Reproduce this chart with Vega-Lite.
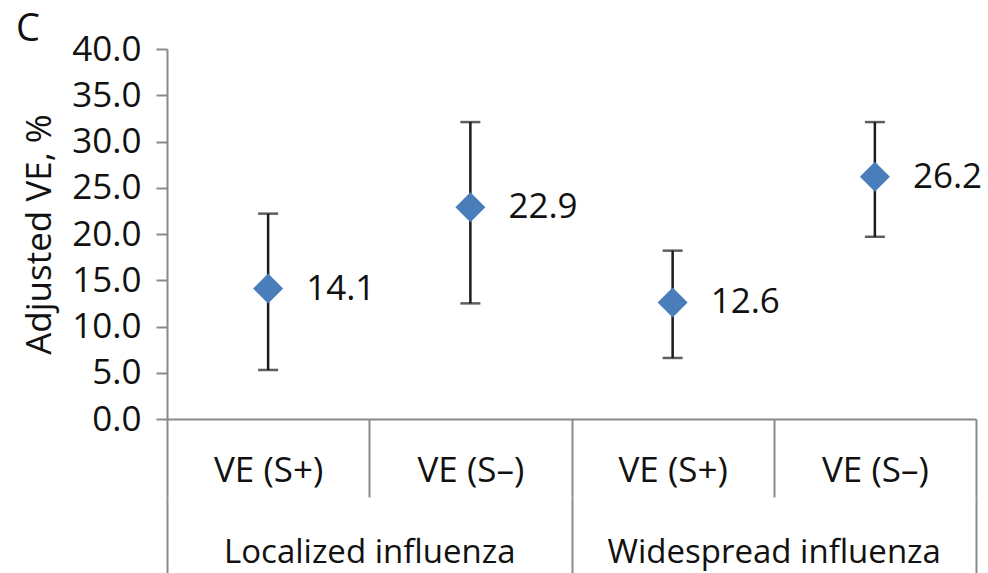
{
  "$schema": "https://vega.github.io/schema/vega-lite/v6.json",
  "autosize": {"type": "none"},
  "padding": {"left": 167, "top": 49, "right": 12, "bottom": 154},
  "width": 809,
  "height": 370,
  "background": "white",
  "title": {"text": "C", "anchor": "start", "frame": "group", "font": "Open Sans", "fontSize": 38, "fontWeight": "normal", "color": "#111", "dx": -151, "dy": 47, "offset": 0, "baseline": "alphabetic"},
  "config": {
    "view": {"stroke": null},
    "font": "Open Sans",
    "axis": {"labelFont": "Open Sans", "titleFont": "Open Sans", "labelColor": "#111", "titleColor": "#111", "domainColor": "#8a8a8a", "tickColor": "#8a8a8a", "domainWidth": 2, "tickWidth": 2, "grid": false, "labelLimit": 0}
  },
  "data": {"values": [
    {"group": "Localized influenza", "cat": "VE (S+)", "key": "Localized influenza|VE (S+)", "ve": 14.1, "lo": 5.3, "hi": 22.2},
    {"group": "Localized influenza", "cat": "VE (S–)", "key": "Localized influenza|VE (S–)", "ve": 22.9, "lo": 12.5, "hi": 32.1},
    {"group": "Widespread influenza", "cat": "VE (S+)", "key": "Widespread influenza|VE (S+)", "ve": 12.6, "lo": 6.6, "hi": 18.2},
    {"group": "Widespread influenza", "cat": "VE (S–)", "key": "Widespread influenza|VE (S–)", "ve": 26.2, "lo": 19.7, "hi": 32.1}
  ]},
  "layer": [
    {
      "resolve": {"scale": {"x": "shared", "y": "shared"}, "axis": {"x": "shared", "y": "shared"}},
      "encoding": {
        "x": {"field": "key", "type": "nominal", "sort": null,
          "scale": {"paddingInner": 0, "paddingOuter": 0},
          "axis": {"title": null, "labelExpr": "split(datum.label, '|')[1]", "labelAngle": 0, "labelFontSize": 35, "tickBand": "extent", "tickSize": 78, "labelPadding": -27, "labelBaseline": "middle", "labelAlign": "center"}
        }
      },
      "layer": [
        {"mark": {"type": "rule", "color": "#1a1a1a", "strokeWidth": 2.5},
         "encoding": {
           "y": {"field": "lo", "type": "quantitative", "scale": {"domain": [0, 40], "nice": false, "zero": true},
             "axis": {"title": "Adjusted VE, %", "titleFontSize": 35, "titleFontWeight": "normal", "values": [0, 5, 10, 15, 20, 25, 30, 35, 40], "format": ".1f", "labelFontSize": 35, "tickSize": 11, "labelPadding": 15, "titlePadding": 14}},
           "y2": {"field": "hi"}
         }},
        {"mark": {"type": "tick", "color": "#1a1a1a", "thickness": 2.5, "size": 20},
         "encoding": {"y": {"field": "lo", "type": "quantitative"}}},
        {"mark": {"type": "tick", "color": "#1a1a1a", "thickness": 2.5, "size": 20},
         "encoding": {"y": {"field": "hi", "type": "quantitative"}}},
        {"mark": {"type": "point", "shape": "diamond", "filled": true, "size": 900, "color": "#4a7ebb", "opacity": 1},
         "encoding": {"y": {"field": "ve", "type": "quantitative"}}},
        {"mark": {"type": "text", "align": "left", "baseline": "middle", "dx": 38, "font": "Open Sans", "fontSize": 35, "color": "#111"},
         "encoding": {"y": {"field": "ve", "type": "quantitative"}, "text": {"field": "ve", "type": "quantitative", "format": ".1f"}}}
      ]
    },
    {
      "mark": {"type": "point", "opacity": 0},
      "encoding": {
        "x": {"field": "group", "type": "nominal", "sort": null,
          "scale": {"paddingInner": 0, "paddingOuter": 0},
          "axis": {"title": null, "orient": "bottom", "offset": 78, "domain": false, "labelAngle": 0, "labelFontSize": 33, "labelLimit": 0, "tickBand": "extent", "tickSize": 80, "labelPadding": -25, "labelBaseline": "middle", "labelAlign": "center"}
        }
      }
    }
  ],
  "resolve": {"scale": {"x": "independent"}, "axis": {"x": "independent"}}
}
